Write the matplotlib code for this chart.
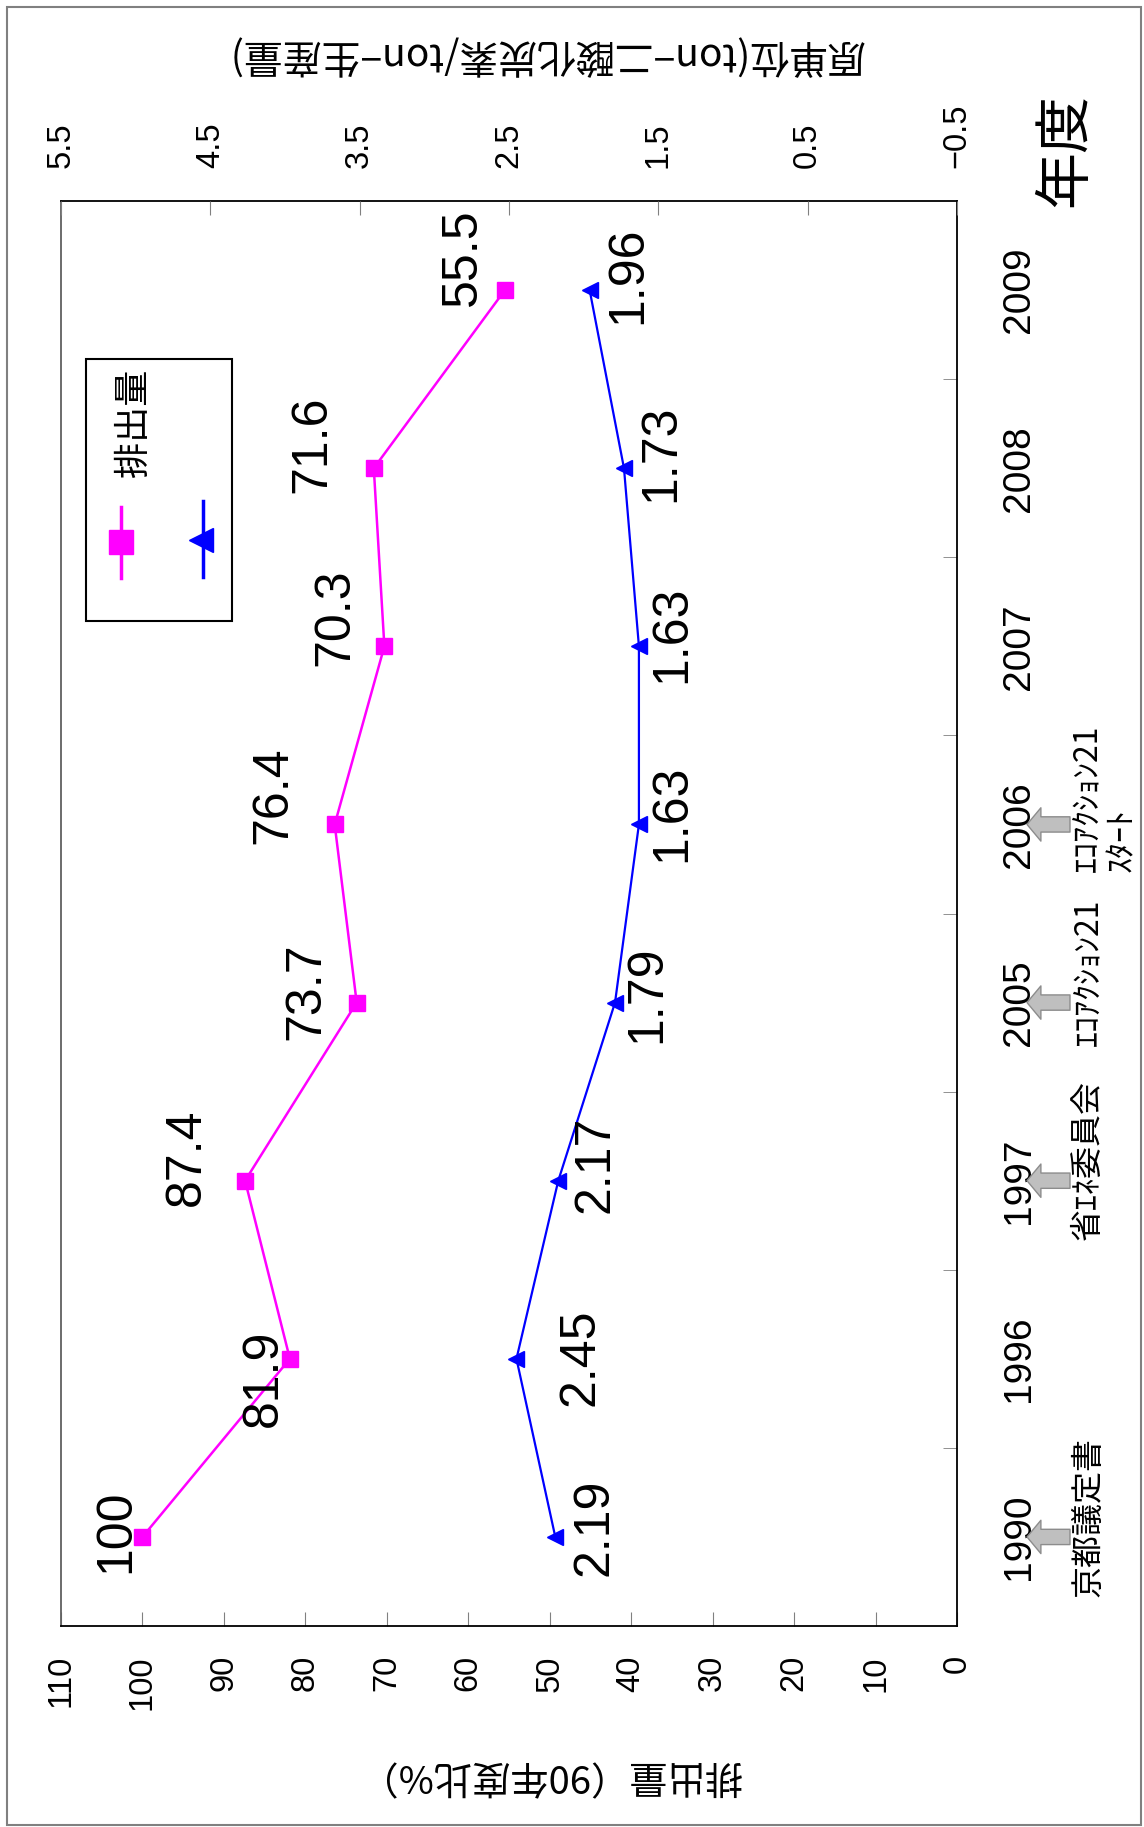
import numpy as np
import matplotlib
matplotlib.use("Agg")
import matplotlib.pyplot as plt
import matplotlib.transforms as mtransforms
from matplotlib.patches import Rectangle
from matplotlib.lines import Line2D

# data
years = ['1990', '1996', '1997', '2005', '2006', '2007', '2008', '2009']
emission = [100, 81.9, 87.4, 73.7, 76.4, 70.3, 71.6, 55.5]
unit = [2.19, 2.45, 2.17, 1.79, 1.63, 1.63, 1.73, 1.96]
emission_ticks = list(range(0, 111, 10))
unit_ticks = [-0.5, 0.5, 1.5, 2.5, 3.5, 4.5, 5.5]
events = {'1990': '京都議定書', '1997': '省ｴﾈ委員会',
          '2005': 'ｴｺｱｸｼｮﾝ21', '2006': 'ｴｺｱｸｼｮﾝ21\nｽﾀｰﾄ'}

# label offsets (points) -- hand placed like the original
em_off = [(-19, 4), (-19, -14), (-42, 17), (-36, 8), (-44, 21), (-35, 21), (-44, 17), (-30, 24)]
un_off = [(28, 7), (46, 1), (27, 12), (23, 6), (24, 8), (24, 9), (27, 11), (28, 11)]

JP = ['Noto Sans CJK JP', 'DejaVu Sans']
SANS = ['Liberation Sans', 'DejaVu Sans']
NARROW = ['Liberation Sans Narrow', 'Liberation Sans', 'DejaVu Sans']

W, H = 1144, 1827
fig = plt.figure(figsize=(W / 100, H / 100), dpi=100)

def fx(px):
    return px / W

def fy(py):
    return 1 - py / H

ax = fig.add_axes([fx(61), fy(1626), fx(957) - fx(61), fy(201) - fy(1626)])
idx = np.arange(len(years))

ax.plot(emission, idx, color='#FF00FF', lw=1.8, marker='s', ms=11, zorder=3)
ax.set_xlim(110, 0)
ax.set_ylim(-0.5, len(years) - 0.5)

ax2 = ax.twiny()
ax2.plot(unit, idx, color='#0000FF', lw=1.6, marker='<', ms=11, zorder=3)
ax2.set_xlim(5.5, -0.5)

# bottom axis (emission)
ax.set_xticks(emission_ticks)
ax.set_xticklabels([str(t) for t in emission_ticks], family=SANS)
ax.tick_params(axis='x', direction='in', length=10, color='#808080',
               labelsize=23.5, pad=21, labelrotation=90)

# top axis (unit)
ax2.set_xticks(unit_ticks)
ax2.set_xticklabels([f'{t:.1f}'.replace('-', '\u2212') for t in unit_ticks], family=SANS)
ax2.tick_params(axis='x', direction='in', length=10, color='#808080',
                labelsize=23.5, pad=24, labelrotation=90)

# category axis on the right
ax.yaxis.tick_right()
ax.set_yticks(idx)
ax.set_yticklabels(years, family=NARROW)
ax.set_yticks(np.arange(0.5, len(years) - 1, 1), minor=True)
ax.tick_params(axis='y', which='major', length=0, pad=32, labelsize=28,
               labelrotation=90, right=False, left=False,
               labelright=True, labelleft=False)
ax.tick_params(axis='y', which='minor', direction='in', length=10,
               color='#808080', right=True, left=False)
for lab in ax.get_yticklabels():
    lab.set_va('center')

for s in ax2.spines.values():
    s.set_visible(False)
for name, s in ax.spines.items():
    s.set_linewidth(1.3)
    s.set_color('#606060' if name == 'left' else 'black')

# data labels
for i, v in enumerate(emission):
    ax.annotate(f'{v:g}', (v, i), xytext=em_off[i], textcoords='offset points',
                ha='center', va='center', rotation=90, fontsize=36, family=SANS)
for i, v in enumerate(unit):
    ax2.annotate(f'{v:.2f}', (v, i), xytext=un_off[i], textcoords='offset points',
                 ha='center', va='center', rotation=90, fontsize=36, family=SANS)

# event arrows and notes
blend = mtransforms.blended_transform_factory(fig.transFigure, ax.transData)
note_drop = {'1990': 43, '1997': 43, '2005': 31, '2006': 34}
for yr, txt in events.items():
    i = years.index(yr)
    ax.annotate('', xy=(fx(1027), i), xycoords=blend,
                xytext=(fx(1070), i), textcoords=blend,
                arrowprops=dict(arrowstyle='simple,head_length=10,head_width=24,tail_width=11',
                                mutation_scale=1, fc='#BFBFBF', ec='#8C8C8C', lw=1,
                                shrinkA=0, shrinkB=0),
                annotation_clip=False)
    xc = 1105 if '\n' in txt else 1088
    ax.annotate(txt, xy=(fx(xc), i), xycoords=blend,
                xytext=(0, -note_drop[yr]), textcoords='offset points',
                rotation=90, ha='center', va='bottom', multialignment='left',
                fontsize=23, family=JP, linespacing=1.1, annotation_clip=False)

# legend drawn by hand
fig.patches.append(Rectangle((fx(86), fy(621)), fx(232) - fx(86), fy(359) - fy(621),
                             transform=fig.transFigure, fill=False, ec='black', lw=1.5))
fig.lines.append(Line2D([fx(121), fx(121)], [fy(578), fy(507)], transform=fig.transFigure,
                        color='#FF00FF', lw=2.5))
fig.lines.append(Line2D([fx(121)], [fy(542)], transform=fig.transFigure,
                        color='#FF00FF', marker='s', ms=17, ls='none'))
fig.lines.append(Line2D([fx(203), fx(203)], [fy(577), fy(501)], transform=fig.transFigure,
                        color='#0000FF', lw=2.5))
fig.lines.append(Line2D([fx(201)], [fy(540)], transform=fig.transFigure,
                        color='#0000FF', marker='<', ms=17, ls='none'))
fig.text(fx(134), fy(423), '排出量', rotation=90, ha='center', va='center',
         fontsize=26, family=JP)

# titles
fig.text(fx(1065), fy(150), '年度', rotation=90, ha='center', va='center',
         fontsize=41, family=JP)
fig.text(fx(545), fy(54), '原単位(ton−二酸化炭素/ton−生産量)', rotation=180,
         ha='center', va='center', fontsize=28, family=JP)
fig.text(fx(549), fy(1774), '排出量（90年度比%）', rotation=180,
         ha='center', va='center', fontsize=27.5, family=JP)

# outer frame
fig.patches.append(Rectangle((fx(7), fy(1825)), fx(1141) - fx(7), fy(7) - fy(1825),
                             transform=fig.transFigure, fill=False, ec='#808080', lw=1.5))

fig.savefig('out.png', dpi=100)
